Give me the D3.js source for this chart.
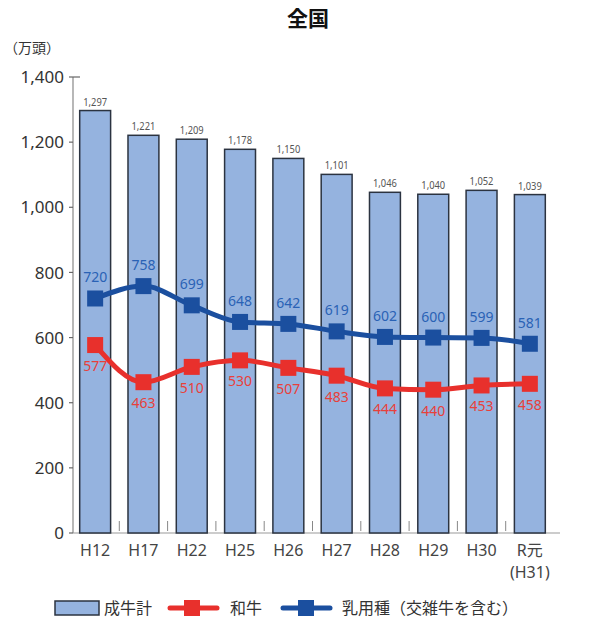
<!DOCTYPE html>
<html><head><meta charset="utf-8">
<script src="https://cdn.jsdelivr.net/npm/d3@7"></script>
<style>body{margin:0;background:#fff}svg{display:block}text{font-family:"Noto Sans","Noto Sans CJK JP",sans-serif}</style>
</head><body>
<script>
const categories = ["H12","H17","H22","H25","H26","H27","H28","H29","H30","R元"];
const catSub = ["","","","","","","","","","(H31)"];
const totalCattle = [1297,1221,1209,1178,1150,1101,1046,1040,1052,1039];
const wagyu = [577,463,510,530,507,483,444,440,453,458];
const dairy = [720,758,699,648,642,619,602,600,599,581];
const yTicks = [0,200,400,600,800,1000,1200,1400];
const legendLabels = ["成牛計","和牛","乳用種（交雑牛を含む）"];
const titleText = "全国";
const unitText = "（万頭）";

const W=611,H=623;
const svg=d3.select("body").append("svg").attr("width",W).attr("height",H);
const barFill="#95b3df", barStroke="#2b3340", redC="#e8302c", blueC="#1b4f9f";
const x=d3.scaleBand().domain(categories).range([71,554]).paddingInner(0.36).paddingOuter(0.18);
const y=d3.scaleLinear().domain([0,1400]).range([533,77]);
const xc=d=>x(d)+x.bandwidth()/2;

svg.append("text").attr("x",308).attr("y",26).attr("text-anchor","middle")
  .attr("font-size",21).attr("font-weight","bold").attr("fill","#111").text(titleText);
svg.append("text").attr("x",4).attr("y",53).attr("font-size",14).attr("fill","#333").text(unitText);

// y axis
const ya=svg.append("g");
ya.append("line").attr("x1",73).attr("x2",73).attr("y1",y(1400)).attr("y2",y(0)).attr("stroke","#888").attr("stroke-width",1.2);
ya.selectAll("line.t").data(yTicks).join("line").attr("class","t")
  .attr("x1",69).attr("x2",73).attr("y1",d=>y(d)).attr("y2",d=>y(d)).attr("stroke","#666").attr("stroke-width",1.2);
ya.append("line").attr("x1",73).attr("x2",80).attr("y1",y(1400)).attr("y2",y(1400)).attr("stroke","#666").attr("stroke-width",1.2);
ya.selectAll("text").data(yTicks).join("text")
  .attr("x",64).attr("y",d=>y(d)).attr("dy","0.36em").attr("text-anchor","end")
  .attr("font-size",17).attr("fill","#333").text(d=>d3.format(",")(d));

// x axis line
svg.append("line").attr("x1",73).attr("x2",560).attr("y1",y(0)).attr("y2",y(0)).attr("stroke","#999").attr("stroke-width",1.2);
// separator ticks
svg.selectAll("line.sep").data(categories.slice(1)).join("line").attr("class","sep")
  .attr("x1",d=>x(d)-x.step()*x.paddingInner()/2).attr("x2",d=>x(d)-x.step()*x.paddingInner()/2)
  .attr("y1",521).attr("y2",531).attr("stroke","#888").attr("stroke-width",1);

// bars
svg.selectAll("rect.bar").data(totalCattle).join("rect").attr("class","bar")
  .attr("x",(d,i)=>x(categories[i])).attr("width",x.bandwidth())
  .attr("y",d=>y(d)).attr("height",d=>y(0)-y(d))
  .attr("fill",barFill).attr("stroke",barStroke).attr("stroke-width",1.5);
svg.selectAll("text.bl").data(totalCattle).join("text").attr("class","bl")
  .attr("x",(d,i)=>xc(categories[i])).attr("y",d=>y(d)-5).attr("text-anchor","middle")
  .attr("font-size",11).attr("fill","#555").attr("transform",(d,i)=>`translate(${xc(categories[i])*0.15},0) scale(0.85,1)`)
  .text(d=>d3.format(",")(d));

// lines
const line=d3.line().x((d,i)=>xc(categories[i])).y(d=>y(d)).curve(d3.curveMonotoneX);
function series(data,col,above){
  svg.append("path").datum(data).attr("d",line).attr("fill","none").attr("stroke",col).attr("stroke-width",5);
  svg.selectAll(null).data(data).join("rect")
    .attr("x",(d,i)=>xc(categories[i])-8).attr("y",d=>y(d)-8).attr("width",16).attr("height",16).attr("fill",col);
  svg.selectAll(null).data(data).join("text")
    .attr("x",(d,i)=>xc(categories[i])).attr("y",d=>above?y(d)-16:y(d)+26).attr("text-anchor","middle")
    .attr("font-size",14).attr("fill",above?"#2a62b5":"#e8403a").text(d=>d);
}
series(wagyu,redC,false);
series(dairy,blueC,true);

// x labels
svg.selectAll("text.xl").data(categories).join("text").attr("class","xl")
  .attr("x",d=>xc(d)).attr("y",556).attr("text-anchor","middle").attr("font-size",16).attr("fill","#444").text(d=>d);
svg.selectAll("text.xs").data(catSub).join("text").attr("class","xs")
  .attr("x",(d,i)=>xc(categories[i])).attr("y",578).attr("text-anchor","middle").attr("font-size",16).attr("fill","#444").text(d=>d);

// legend
const lg=svg.append("g");
lg.append("rect").attr("x",55).attr("y",601).attr("width",44).attr("height",14).attr("fill",barFill).attr("stroke",barStroke).attr("stroke-width",1.5);
lg.append("text").attr("x",104).attr("y",614).attr("font-size",16).attr("fill","#333").text(legendLabels[0]);
lg.append("line").attr("x1",170).attr("x2",217).attr("y1",608).attr("y2",608).attr("stroke",redC).attr("stroke-width",5).attr("stroke-linecap","round");
lg.append("rect").attr("x",184).attr("y",600).attr("width",16).attr("height",16).attr("fill",redC);
lg.append("text").attr("x",230).attr("y",614).attr("font-size",16).attr("fill","#333").text(legendLabels[1]);
lg.append("line").attr("x1",283).attr("x2",330).attr("y1",608).attr("y2",608).attr("stroke",blueC).attr("stroke-width",5).attr("stroke-linecap","round");
lg.append("rect").attr("x",298).attr("y",600).attr("width",16).attr("height",16).attr("fill",blueC);
lg.append("text").attr("x",342).attr("y",614).attr("font-size",16).attr("fill","#333").text(legendLabels[2]);
</script>
</body></html>
